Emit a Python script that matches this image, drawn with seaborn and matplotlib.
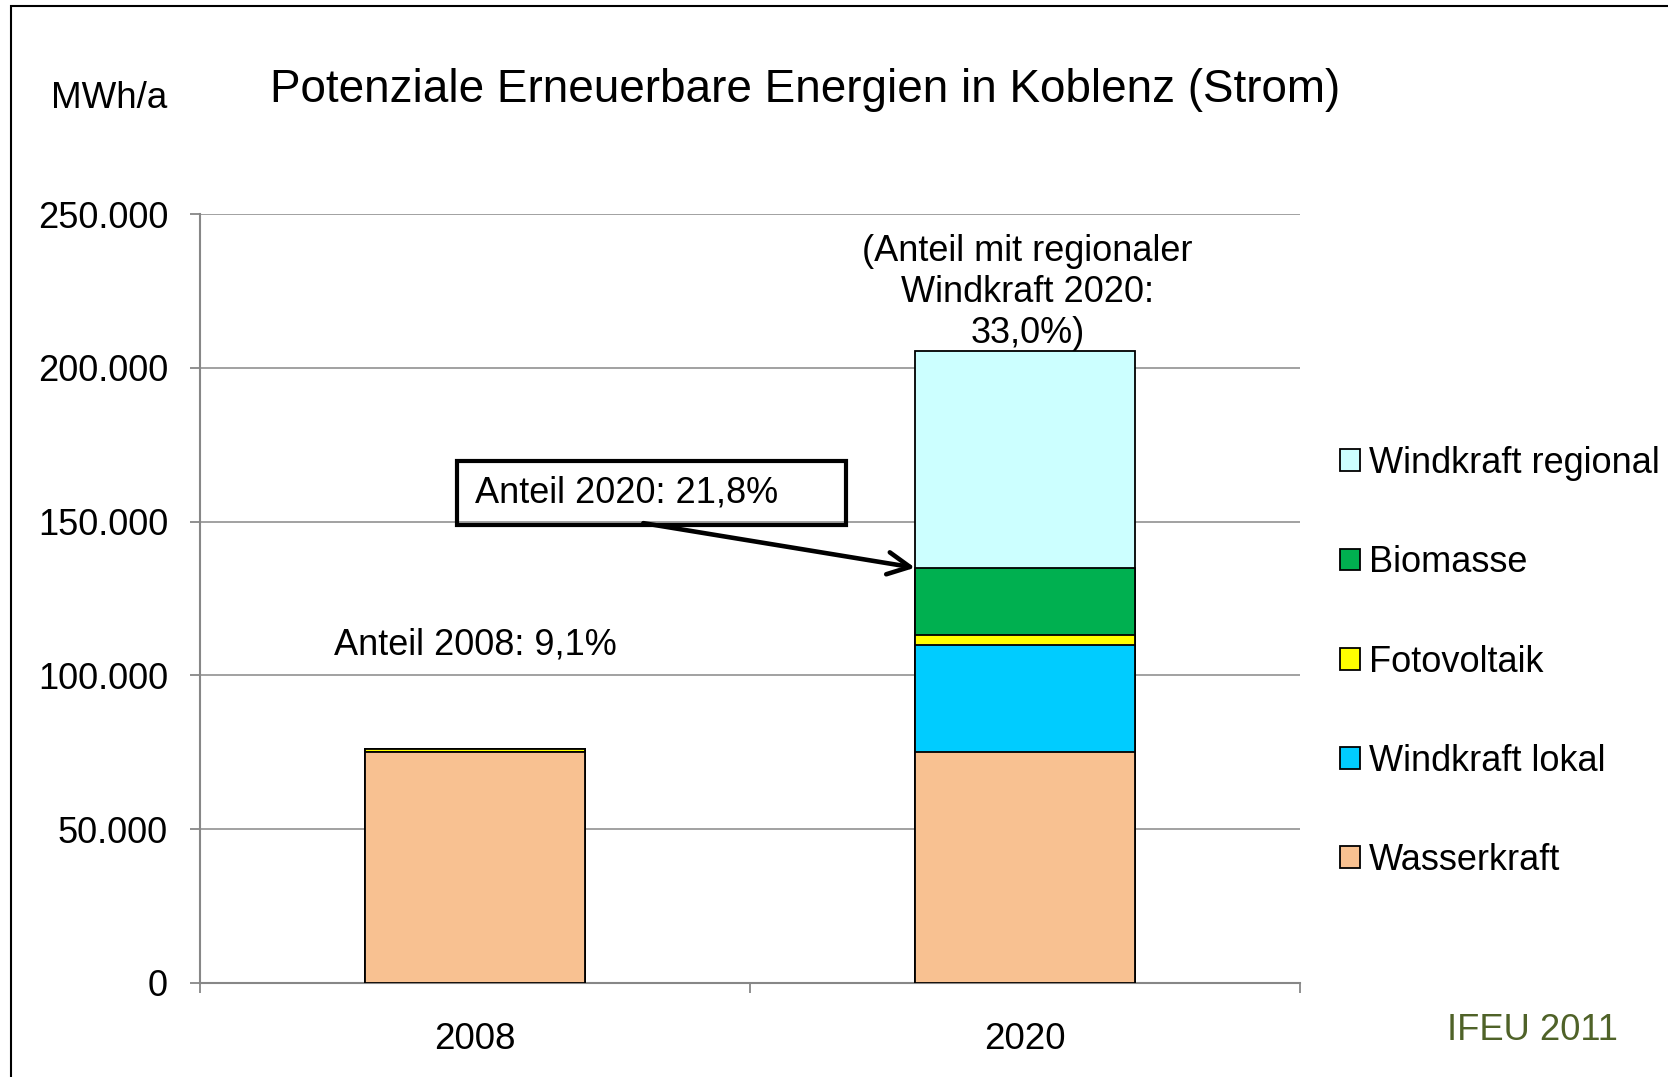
import matplotlib
matplotlib.use("Agg")
import matplotlib.pyplot as plt
import seaborn as sns
import numpy as np
from matplotlib.patches import Patch, Rectangle
from matplotlib.ticker import FuncFormatter, FixedLocator

sns.set_style("white")
plt.rcParams['font.family'] = ['Liberation Sans', 'DejaVu Sans']
plt.rcParams['text.color'] = 'black'
plt.rcParams['xtick.color'] = 'black'
plt.rcParams['ytick.color'] = 'black'

# Data (MWh/a)
years = ['2008', '2020']
wasserkraft = [75000, 75000]
windkraft_lokal = [0, 35000]
fotovoltaik = [1000, 3000]
biomasse = [0, 22000]
windkraft_regional = [0, 70500]

layers = ['Wasserkraft', 'Windkraft lokal', 'Fotovoltaik', 'Biomasse', 'Windkraft regional']
values = [wasserkraft, windkraft_lokal, fotovoltaik, biomasse, windkraft_regional]
colors = ['#F8C191', '#00CCFF', '#FFFF00', '#00B050', '#CCFFFF']

cum = np.cumsum(np.array(values), axis=0)

fig = plt.figure(figsize=(16.68, 10.77), dpi=100)
ax = fig.add_axes([200 / 1668, 1 - 983 / 1077, 1100 / 1668, (983 - 214) / 1077])

# stacked bars: draw totals from the top layer down
for i in reversed(range(len(layers))):
    sns.barplot(x=years, y=cum[i], color=colors[i], saturation=1, width=0.4,
                edgecolor='black', linewidth=1.3, ax=ax, zorder=3)

grey = '#878787'
ax.set_ylim(0, 250000)
ax.set_xlim(-0.5, 1.5)
ax.set_yticks(np.arange(0, 250001, 50000))
ax.yaxis.set_major_formatter(FuncFormatter(lambda v, p: f'{int(v):,}'.replace(',', '.')))
ax.grid(axis='y', color=grey, linewidth=1.1, zorder=0)
ax.set_axisbelow(True)
for s in ['top', 'right']:
    ax.spines[s].set_visible(False)
for s in ['left', 'bottom']:
    ax.spines[s].set_color(grey)
    ax.spines[s].set_linewidth(1.5)
ax.tick_params(axis='y', direction='out', length=7, width=1.3, color=grey,
               labelcolor='black', pad=16, labelsize=26, left=True)
ax.tick_params(axis='x', which='major', length=0, pad=28, labelsize=26.5,
               labelcolor='black')
ax.xaxis.set_minor_locator(FixedLocator([-0.5, 0.5, 1.5]))
ax.tick_params(axis='x', which='minor', direction='out', length=7, width=1.3,
               color=grey, bottom=True)
ax.set_xlabel('')
ax.set_ylabel('')

# annotations
ax.text(0.0, 110000, 'Anteil 2008: 9,1%', ha='center', va='center', fontsize=26)
ax.text(1.005, 224500, '(Anteil mit regionaler\nWindkraft 2020:\n33,0%)',
        ha='center', va='center', fontsize=26, linespacing=1.23)
ax.add_patch(Rectangle((-0.033, 148800), 0.708, 21000, fill=False,
                       edgecolor='black', linewidth=3, zorder=5, clip_on=False))
ax.text(0.0, 159300, 'Anteil 2020: 21,8%', ha='left', va='center', fontsize=26, zorder=6)
ax.annotate('', xy=(0.8, cum[3][1]), xytext=(0.306, 149500),
            arrowprops=dict(arrowstyle='->', lw=3.3, color='black', mutation_scale=40,
                            shrinkA=0, shrinkB=0), zorder=6)

# legend
handles = [Patch(facecolor=colors[i], edgecolor='black', linewidth=1.3, label=layers[i])
           for i in reversed(range(len(layers)))]
fig.legend(handles=handles, loc='upper left', bbox_to_anchor=(1340 / 1668, 1 - 446 / 1077),
           frameon=False, fontsize=26, handlelength=0.55, handleheight=0.55,
           handletextpad=0.25, labelspacing=1.78, borderaxespad=0, borderpad=0)

fig.text(109 / 1668, 1 - 98 / 1077, 'MWh/a', ha='center', va='center', fontsize=26.5)
fig.text(805 / 1668, 1 - 90 / 1077, 'Potenziale Erneuerbare Energien in Koblenz (Strom)',
         ha='center', va='center', fontsize=33)
fig.text(1532 / 1668, 1 - 1030 / 1077, 'IFEU 2011', ha='center', va='center',
         fontsize=26.2, color='#4F6228')

# outer frame
fig.patches.append(Rectangle((11 / 1668, -0.05), 1.1, 1.05 - 5.5 / 1077, fill=False,
                             edgecolor='black', linewidth=1.5, transform=fig.transFigure,
                             figure=fig))

fig.savefig('out.png', dpi=100)
